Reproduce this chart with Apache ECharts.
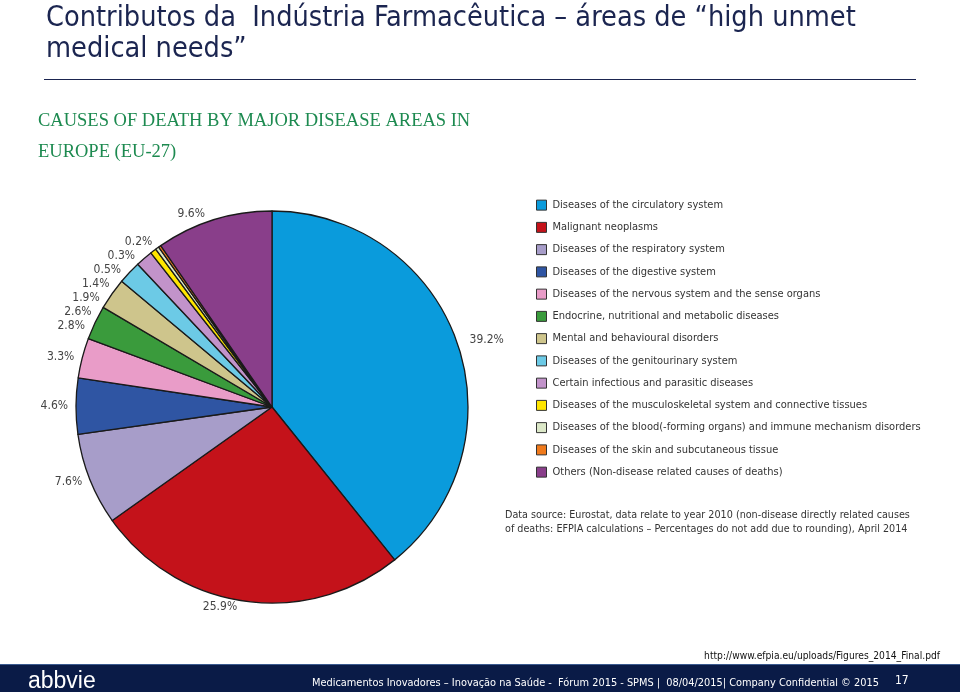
<!DOCTYPE html>
<html><head><meta charset="utf-8">
<script src="https://cdn.jsdelivr.net/npm/echarts@6/dist/echarts.min.js"></script>
<style>html,body{margin:0;padding:0;background:#fff}#c{width:960px;height:692px}</style>
</head><body><div id="c"></div>
<script>
const categories = [
  'Diseases of the circulatory system',
  'Malignant neoplasms',
  'Diseases of the respiratory system',
  'Diseases of the digestive system',
  'Diseases of the nervous system and the sense organs',
  'Endocrine, nutritional and metabolic diseases',
  'Mental and behavioural disorders',
  'Diseases of the genitourinary system',
  'Certain infectious and parasitic diseases',
  'Diseases of the musculoskeletal system and connective tissues',
  'Diseases of the blood(-forming organs) and immune mechanism disorders',
  'Diseases of the skin and subcutaneous tissue',
  'Others (Non-disease related causes of deaths)'
];
const shares = [39.2, 25.9, 7.6, 4.6, 3.3, 2.8, 2.6, 1.9, 1.4, 0.5, 0.3, 0.2, 9.6];
const colors = ['#0A9BDC','#C4121A','#A79DC9','#2F55A3','#E99CC8','#3A9B3C','#CEC58C','#6CCAE6','#C293CA','#FFE600','#DCE8C8','#F07A1C','#893E8A'];

const narrow = '"Liberation Sans Narrow","DejaVu Sans Condensed","Liberation Sans",sans-serif';
const chart = echarts.init(document.getElementById('c'), null, {renderer:'canvas'});
chart.setOption({
  backgroundColor:'#fff',
  animation:false,
  title:[
    {text:'Contributos da  Indústria Farmacêutica – áreas de “high unmet\nmedical needs”', left:41, top:-2,
     textStyle:{fontFamily:narrow, fontSize:28.6, fontWeight:'normal', color:'#1B2550', lineHeight:31}},
    {text:'CAUSES OF DEATH BY MAJOR DISEASE AREAS IN\nEUROPE (EU-27)', left:33, top:101,
     textStyle:{fontFamily:'"Liberation Serif",serif', fontSize:18.5, fontWeight:'normal', color:'#1D8A50', lineHeight:31}},
    {text:'Data source: Eurostat, data relate to year 2010 (non-disease directly related causes\nof deaths: EFPIA calculations – Percentages do not add due to rounding), April 2014', left:500, top:503,
     textStyle:{fontFamily:narrow, fontSize:10.7, fontWeight:'normal', color:'#333', lineHeight:14}},
    {text:'http://www.efpia.eu/uploads/Figures_2014_Final.pdf', right:15, top:646,
     textStyle:{fontFamily:narrow, fontSize:10.2, fontWeight:'normal', color:'#111'}}
  ],
  legend:{
    orient:'vertical', left:531, top:194, itemWidth:10, itemHeight:10, itemGap:10,
    icon:'rect', selectedMode:false,
    itemStyle:{borderColor:'#333', borderWidth:1},
    textStyle:{fontFamily:narrow, fontSize:11, color:'#333', lineHeight:12.25, padding:[0,0,0,1]},
    data:categories
  },
  graphic:[
    {type:'line', shape:{x1:44,y1:79.5,x2:916,y2:79.5}, style:{stroke:'#1B2550', lineWidth:1}},
    {type:'rect', shape:{x:0,y:664,width:960,height:28}, style:{fill:'#0A1B47'}},
    {type:'line', shape:{x1:0,y1:664.5,x2:960,y2:664.5}, style:{stroke:'#3B5A8F', lineWidth:1}},
    {type:'text', left:28, top:670, style:{text:'abbvie', fill:'#fff', font:'normal 23px "Liberation Sans",sans-serif'}},
    {type:'text', left:312, top:678, style:{text:'Medicamentos Inovadores – Inovação na Saúde -  Fórum 2015 - SPMS |  08/04/2015| Company Confidential © 2015', fill:'#fff', font:'normal 10.9px '+narrow}},
    {type:'text', left:895, top:675, style:{text:'17', fill:'#fff', font:'normal 12px '+narrow}}
  ],
  series:[{
    type:'pie', center:[272,407], radius:196, startAngle:90, clockwise:true,
    avoidLabelOverlap:true, silent:true,
    itemStyle:{borderColor:'#1a1a1a', borderWidth:1.3},
    label:{show:true, position:'outside', formatter:'{c}%', fontFamily:narrow, fontSize:12, color:'#444'},
    labelLine:{show:false, length:6, length2:2},
    data:categories.map((n,i)=>({name:n, value:shares[i], itemStyle:{color:colors[i]}}))
  }]
});
</script></body></html>
